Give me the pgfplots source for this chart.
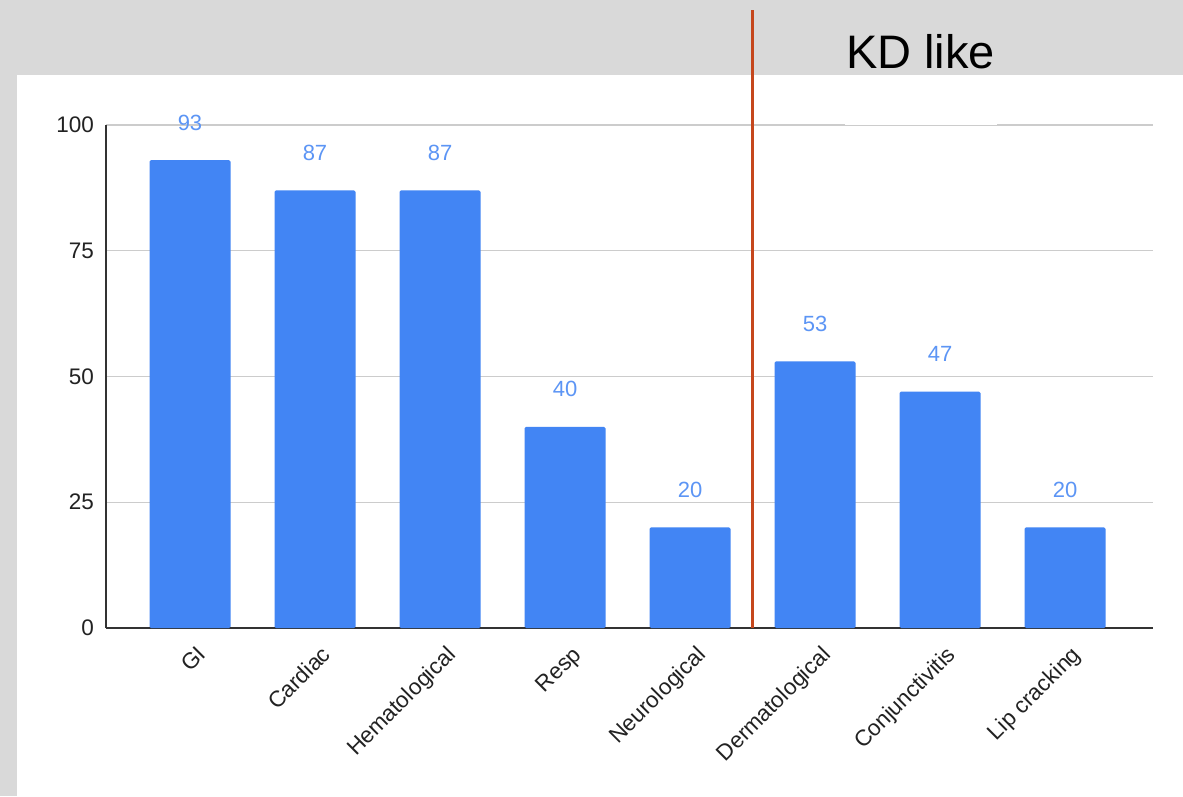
\documentclass[border=0pt]{standalone}
\usepackage{fontspec}
\setmainfont{Liberation Sans}
\usepackage{pgfplots}
\pgfplotsset{compat=1.18}

\definecolor{bg}{HTML}{D9D9D9}
\definecolor{barblue}{HTML}{4285F4}
\definecolor{lblblue}{HTML}{5C95F5}
\definecolor{sep}{HTML}{C5471D}
\definecolor{gridc}{HTML}{CCCCCC}
\definecolor{axisc}{HTML}{333333}
\definecolor{txt}{HTML}{222222}

\begin{document}
\begin{tikzpicture}[x=1pt,y=1pt]
\useasboundingbox (0,0) rectangle (1183,796);
% page background and white chart panel
\fill[bg] (0,0) rectangle (1183,796);
\fill[white] (17,0) rectangle (1183,721);

\begin{axis}[
  at={(106pt,168pt)}, anchor=south west,
  scale only axis, width=1047pt, height=503pt,
  xmin=-0.672, xmax=7.704, ymin=0, ymax=100,
  axis lines*=left,
  axis line style={axisc, line width=1.5pt},
  major tick length=0pt,
  ytick={0,25,50,75,100},
  ymajorgrids,
  grid style={gridc, line width=1.2pt},
  xtick={0,1,2,3,4,5,6,7},
  xticklabels={GI,Cardiac,Hematological,Resp,Neurological,Dermatological,Conjunctivitis,Lip cracking},
  /pgf/number format/assume math mode=true,
  ticklabel style={font=\fontsize{22.5}{27}\selectfont, text=txt},
  yticklabel style={anchor=east, inner sep=0pt, xshift=-12pt},
  xticklabel style={anchor=base east, inner sep=0pt, xshift=17pt, yshift=-28pt, rotate=45},
  clip=false,
]
\addplot[ybar, fill=barblue, draw=none, bar width=81pt, rounded corners=1.5pt,
  nodes near coords,
  every node near coord/.append style={font=\fontsize{22}{26}\selectfont, text=lblblue,
    anchor=base, inner sep=0pt, yshift=30pt}]
  coordinates {(0,93) (1,87) (2,87) (3,40) (4,20) (5,53) (6,47) (7,20)};
% separator between the two symptom groups
\draw[sep, line width=3pt] (axis cs:4.5,0) -- (axis cs:4.5,122.9);
\end{axis}

\fill[white] (845,670.5) rectangle (997,675);
\node[anchor=base west, inner sep=0pt, font=\fontsize{47}{56}\selectfont] at (846,727) {KD like};
\end{tikzpicture}
\end{document}
